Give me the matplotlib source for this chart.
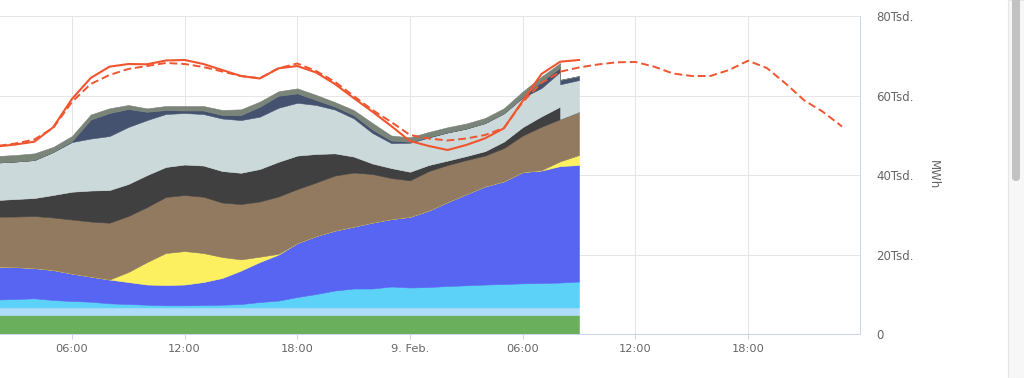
import numpy as np
import matplotlib
matplotlib.use('Agg')
import matplotlib.pyplot as plt
from matplotlib.patches import Rectangle, FancyBboxPatch
from matplotlib.transforms import IdentityTransform

nan = np.nan

# hour index counted from 8 Feb 00:00
hours = np.arange(2, 34)
forecast_hours = np.arange(2, 48)

# generation by source, MWh (bottom to top of the stack)
biomass = [4800, 4800, 4800, 4800, 4800, 4800, 4800, 4800, 4800, 4800, 4800, 4800, 4800, 4800, 4800, 4800,
           4800, 4800, 4800, 4800, 4800, 4800, 4800, 4800, 4800, 4800, 4800, 4800, 4800, 4800, 4800, 4800]
hydro = [2000, 2000, 2000, 2000, 2000, 2000, 2000, 2000, 2000, 2000, 2000, 2000, 2000, 2000, 2000, 2000,
         2000, 2000, 2000, 2000, 2000, 2000, 2000, 2000, 2000, 2000, 2000, 2000, 2000, 2000, 2000, 2000]
wind_offshore = [1980, 2110, 2290, 1860, 1610, 1430, 1030, 850, 680, 530, 530, 600, 680, 850, 1360, 1730,
                 2610, 3370, 4240, 4750, 4750, 5250, 5000, 5120, 5380, 5550, 5750, 5880, 6050, 6130, 6250, 6510]
wind_onshore = [8290, 8040, 7610, 7540, 6910, 6330, 5980, 5530, 5070, 5100, 5220, 5780, 6710, 8410, 10050, 11550,
                13560, 14570, 15070, 15570, 16580, 16950, 17780, 19220, 21100, 22930, 24690, 25800, 27960, 28260,
                29260, 29260]
solar = [0, 0, 0, 0, 0, 0, 0, 2510, 5650, 8040, 8410, 7280, 5270, 2810, 1330, 200,
         0, 0, 0, 0, 0, 0, 0, 0, 0, 0, 0, 0, 0, 100, 1200, 2500]
lignite = [12510, 12680, 13060, 13190, 13560, 13810, 14270, 14070, 13810, 14070, 14070, 14140, 13690, 13890,
           13870, 14390, 13560, 13440, 13810, 13560, 12180, 10300, 9140, 9920, 9290, 8540, 7710, 8360, 9170,
           10900, 10600, 10880]
hard_coal = [4190, 4400, 4520, 5650, 6980, 7790, 8210, 8040, 8040, 7540, 7660, 7840, 7910, 7860, 8160, 8720,
             8410, 7160, 5580, 4020, 2640, 2510, 2160, 1510, 1110, 1000, 1110, 1610, 2110, 2610, 3140, nan]
gas = [9420, 9420, 9540, 10800, 12480, 13060, 13560, 14320, 13810, 13310, 12940, 12940, 13190, 13240, 13140,
       13560, 13260, 12310, 11000, 9590, 7660, 6280, 7280, 6910, 7060, 6910, 7060, 7110, 7430, 7110, 8740, 7960]
pumped_storage = [0, 0, 0, 0, 250, 4770, 5780, 4520, 2080, 1000, 630, 880, 880, 1260, 2510, 3010,
                  2360, 1260, 750, 830, 880, 630, 250, 130, 50, 0, 0, 0, 130, 1630, 1110, 1000]
other = [1630, 1630, 1680, 1260, 1260, 1260, 1180, 1000, 850, 1000, 1130, 1130, 1260, 1430, 1260, 1130,
         1260, 1260, 1130, 1260, 1630, 1260, 1110, 1260, 1260, 1260, 1260, 1260, 1380, 1260, 1080, nan]

# consumption, MWh
load_actual = [47220, 47720, 48430, 52040, 59150, 64430, 67270, 67940, 67870, 68820, 68950, 67940, 66440,
               64930, 64300, 66860, 67440, 65810, 62920, 59400, 55960, 52370, 48600, 47350, 46340, 47600,
               49280, 51790, 58650, 65430, 68520, 68950]
load_forecast = [47350, 47980, 48980, 51870, 58400, 62920, 65180, 66690, 67440, 68200, 67940, 67190, 66060,
                 64930, 64350, 66860, 68070, 66190, 63500, 59910, 56390, 53380, 50110, 49230, 48730, 49230,
                 50110, 51870, 58400, 63170, 66010, 67070, 67820, 68370, 68450, 67270, 65560, 64930, 64930,
                 66440, 68770, 66940, 63050, 58780, 55890, 52250]

tick_hours = [6, 12, 18, 24, 30, 36, 42]
tick_labels = ['06:00', '12:00', '18:00', '9. Feb.', '06:00', '12:00', '18:00']
y_ticks = [0, 20000, 40000, 60000, 80000]
y_tick_labels = ['0', '20Tsd.', '40Tsd.', '60Tsd.', '80Tsd.']

layers = [
    (biomass, '#6aaf5c'),
    (hydro, '#afdcf8'),
    (wind_offshore, '#5dd2f9'),
    (wind_onshore, '#5865f3'),
    (solar, '#fcef60'),
    (lignite, '#917a5f'),
    (hard_coal, '#404040'),
    (gas, '#cbd9da'),
    (pumped_storage, '#45526f'),
    (other, '#7a8478'),
]

fig = plt.figure(figsize=(10.24, 3.78), dpi=100)
ax = fig.add_axes([0, 0.1151, 0.8398, 0.8426])

# stack segment by segment so a series that stops leaves a cliff, not a slope
vals = np.array([l[0] for l in layers], dtype=float)
valid = ~np.isnan(vals)
ok = valid[:, :-1] & valid[:, 1:]
left = np.where(ok, vals[:, :-1], 0.0)
right = np.where(ok, vals[:, 1:], 0.0)
seg_x = np.column_stack([hours[:-1], hours[1:]]).ravel()
seg_v = np.stack([left, right], axis=2).reshape(len(vals), -1)
tops = np.cumsum(seg_v, axis=0)
bottoms = tops - seg_v
for i, (_, color) in enumerate(layers):
    ax.fill_between(seg_x, bottoms[i], tops[i], color=color, linewidth=0.4, zorder=2)

ax.plot(hours, load_actual, color='#f0552f', lw=1.5, zorder=4)
ax.plot(forecast_hours, load_forecast, color='#f0552f', lw=1.4, dashes=(4, 2), zorder=4)

ax.set_xlim(2.17, 47.96)
ax.set_ylim(0, 80000)
ax.set_xticks(tick_hours, tick_labels)
ax.set_yticks(y_ticks, y_tick_labels)
ax.yaxis.tick_right()
ax.tick_params(axis='y', length=0, pad=12, labelsize=8.5, labelcolor='#666666')
ax.tick_params(axis='x', length=3.6, width=0.75, color='#ccd6eb', pad=3.5, labelsize=8.2, labelcolor='#666666')
ax.grid(True, color='#e6e6e6', lw=0.75)
ax.set_axisbelow(True)
for side in ['top', 'left']:
    ax.spines[side].set_visible(False)
for side in ['bottom', 'right']:
    ax.spines[side].set_color('#ccd6eb')
    ax.spines[side].set_linewidth(0.75)

fig.text(933 / 1024, 1 - 175 / 378, 'MWh', rotation=270, ha='center', va='center',
         fontsize=8.5, color='#666666')

# browser scrollbar at the right edge of the screenshot
fig.add_artist(Rectangle((1008, 0), 16, 378, transform=IdentityTransform(),
                         facecolor='#f7f7f7', edgecolor='#e6e6e6', lw=0.8))
fig.add_artist(FancyBboxPatch((1012, 197), 8, 185, boxstyle='round,pad=0,rounding_size=4',
                              transform=IdentityTransform(), facecolor='#c2c2c2', edgecolor='none'))

fig.savefig('out.png', dpi=100)
